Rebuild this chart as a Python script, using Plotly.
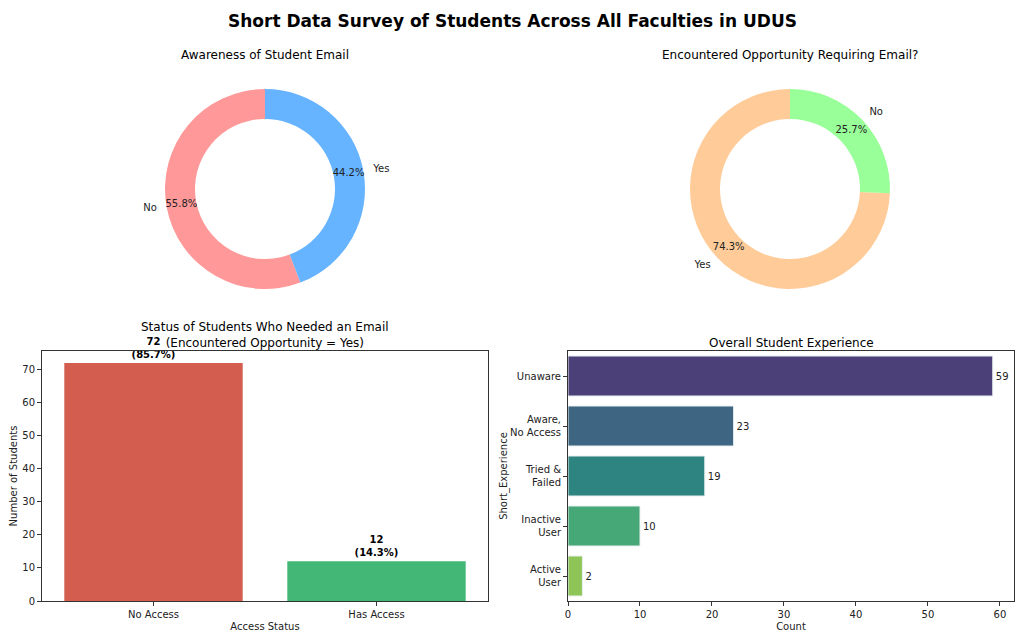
import math
import plotly.graph_objects as go

# survey numbers
aware_labels = ["No", "Yes"]
aware_counts = [63, 50]
aware_colors = ["#ff9999", "#66b3ff"]

opp_labels = ["Yes", "No"]
opp_counts = [84, 29]
opp_colors = ["#ffcc99", "#99ff99"]

access_labels = ["No Access", "Has Access"]
access_counts = [72, 12]
access_colors = ["#d35e4f", "#43b775"]

exp_labels = ["Unaware", "Aware,<br>No Access", "Tried &<br>Failed", "Inactive<br>User", "Active<br>User"]
exp_counts = [59, 23, 19, 10, 2]
exp_colors = ["#4b4178", "#3e6682", "#2e8480", "#46a877", "#8fc556"]

FONT = "DejaVu Sans, sans-serif"
# the page body keeps an 8px margin, so the figure is drawn 16px smaller
OFF = 8
W, H = 1024 - 2 * OFF, 640 - 2 * OFF


def px_x(p):
    return (p - OFF) / W


def px_y(p):
    return 1 - (p - OFF) / H


def wedges(values):
    """ centre angle and span (deg, counterclockwise from 12 o'clock) of each wedge """
    total = sum(values)
    mids, spans, start = [], [], 0.0
    for v in values:
        span = v / total * 360
        mids.append(start + span / 2)
        spans.append(span)
        start += span
    return mids, spans


fig = go.Figure()

# polar domain is 1.1x the donut radius so the outside labels stay in range
donuts = [
    (aware_labels, aware_counts, aware_colors, [px_x(155), px_x(375)], "polar"),
    (opp_labels, opp_counts, opp_colors, [px_x(680), px_x(900)], "polar2"),
]
dom_y = [px_y(299), px_y(79)]
for labels, values, colors, dom_x, polar in donuts:
    mids, spans = wedges(values)
    total = sum(values)
    fig.add_trace(go.Barpolar(
        r=[0.3] * len(values), base=[0.7] * len(values), theta=mids, width=spans,
        marker=dict(color=colors, line=dict(width=0)), subplot=polar,
        showlegend=False, hovertext=labels, hoverinfo="text",
    ))
    pct = ["{:.1f}%".format(v / total * 100) for v in values]
    # names hang off the ring like matplotlib: left-aligned on the right side
    side = ["middle right" if math.sin(math.radians(m)) < 0 else "middle left" for m in mids]
    fig.add_trace(go.Scatterpolar(
        r=[0.85] * len(values) + [1.1] * len(values), theta=mids + mids,
        mode="text", text=pct + labels, textposition=["middle center"] * len(values) + side,
        subplot=polar, showlegend=False, hoverinfo="skip",
        cliponaxis=False, textfont=dict(family=FONT, size=10, color="#222"),
    ))
    fig.layout[polar] = dict(
        domain=dict(x=dom_x, y=dom_y), bgcolor="rgba(0,0,0,0)",
        radialaxis=dict(range=[0, 1.1], visible=False),
        angularaxis=dict(rotation=90, direction="counterclockwise", visible=False),
    )

total_access = sum(access_counts)
access_text = ["<b>{}<br>({:.1f}%)</b>".format(c, c / total_access * 100) for c in access_counts]
fig.add_trace(go.Bar(
    x=access_labels, y=access_counts, marker=dict(color=access_colors, line=dict(width=0)),
    text=access_text, textposition="outside", cliponaxis=False, width=0.8,
    textfont=dict(family=FONT, size=10, color="black"),
    xaxis="x", yaxis="y", showlegend=False,
))

fig.add_trace(go.Bar(
    y=exp_labels, x=exp_counts, orientation="h",
    marker=dict(color=exp_colors, line=dict(width=1, color="#e8eef0")),
    text=[str(c) for c in exp_counts], textposition="outside", cliponaxis=False, width=0.8,
    textfont=dict(family=FONT, size=10, color="#222"),
    xaxis="x2", yaxis="y2", showlegend=False,
))

axis_common = dict(
    showline=True, linecolor="#333", linewidth=1, mirror=True, automargin=False,
    ticks="outside", ticklen=4, tickcolor="#333", showgrid=False, zeroline=False,
    tickfont=dict(family=FONT, size=10, color="#222"),
)

fig.update_layout(
    width=W, height=H,
    margin=dict(l=0, r=0, t=0, b=0),
    paper_bgcolor="white", plot_bgcolor="white",
    font=dict(family=FONT, color="#222"),
    xaxis=dict(domain=[px_x(42), px_x(488)], anchor="y",
               title=dict(text="Access Status", font=dict(size=10), standoff=3), **axis_common),
    yaxis=dict(domain=[px_y(601), px_y(351)], anchor="x", range=[0, 75.6], dtick=10,
               title=dict(text="Number of Students", font=dict(size=10), standoff=6), **axis_common),
    xaxis2=dict(domain=[px_x(568), px_x(1014)], anchor="y2", range=[0, 61.95], dtick=10,
                title=dict(text="Count", font=dict(size=10), standoff=3), **axis_common),
    yaxis2=dict(domain=[px_y(601), px_y(351)], anchor="x2", autorange="reversed",
                title=dict(text="Short_Experience", font=dict(size=10), standoff=0), **axis_common),
    bargap=0.2,
)

titles = [
    ("<b>Short Data Survey of Students Across All Faculties in UDUS</b>", 512, 21, 17, "middle"),
    ("Awareness of Student Email", 265, 55, 12, "middle"),
    ("Encountered Opportunity Requiring Email?", 790, 55, 12, "middle"),
    ("Status of Students Who Needed an Email<br>(Encountered Opportunity = Yes)", 265, 352, 12, "bottom"),
    ("Overall Student Experience", 791, 352, 12, "bottom"),
]
for text, x, y, size, anchor in titles:
    fig.add_annotation(text=text, x=px_x(x), y=px_y(y), xref="paper", yref="paper",
                       xanchor="center", yanchor=anchor, showarrow=False,
                       font=dict(family=FONT, size=size, color="black"))

fig.write_html("out.html")
